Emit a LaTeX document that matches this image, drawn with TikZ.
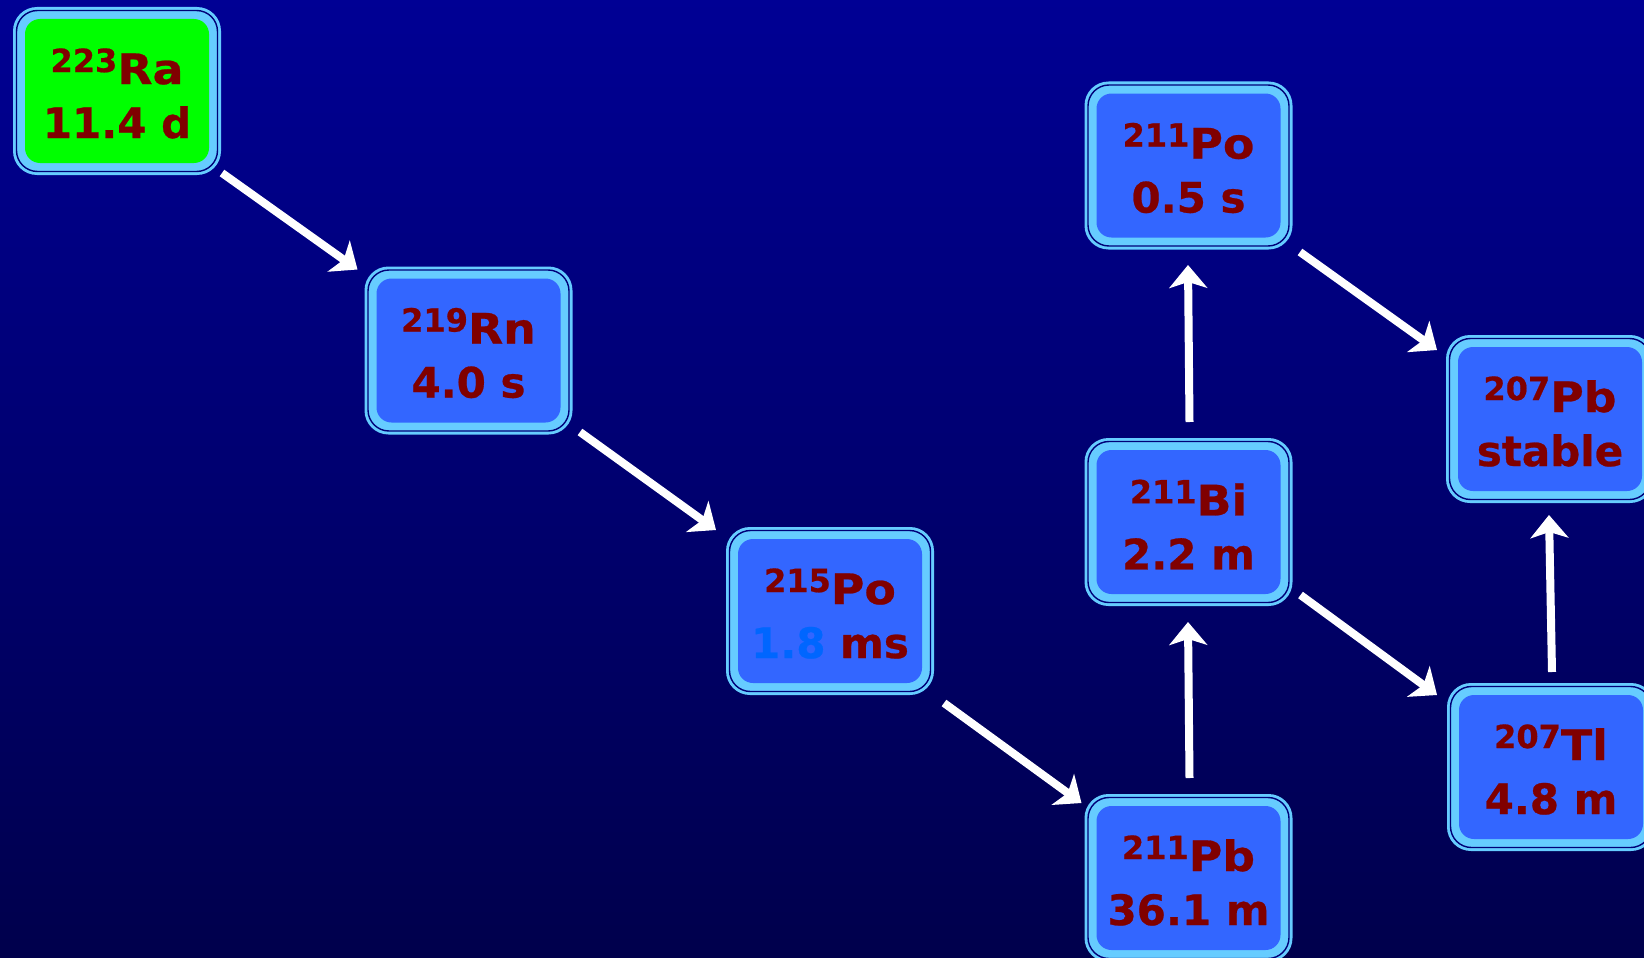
\documentclass[tikz,border=0pt]{standalone}
\usepackage{fontspec}
\setmainfont{DejaVu Sans}
\newfontfamily\nucfont{DejaVu Sans}[UprightFont={* Bold}, FakeBold=0.6]
\newfontfamily\symfont{DejaVu Sans}[UprightFont={* Bold}, FakeBold=0.6, FakeStretch=1.09]
\usetikzlibrary{arrows.meta}
\definecolor{bgtop}{RGB}{0,0,148}
\definecolor{bgbot}{RGB}{0,0,76}
\definecolor{band}{RGB}{102,204,255}
\definecolor{rim}{RGB}{0,0,120}
\definecolor{boxblue}{RGB}{51,102,255}
\definecolor{boxgreen}{RGB}{0,255,0}
\definecolor{txt}{RGB}{128,0,0}
\definecolor{hl}{RGB}{0,102,255}
\newcommand\isot[2]{\raisebox{12pt}{\fontsize{32}{32}\selectfont #1}{\symfont #2}}
\tikzset{
 outerbox/.style={rectangle, rounded corners=24pt, fill=band, minimum width=208pt, minimum height=168pt, inner sep=0pt, outer sep=0pt},
 rimline/.style={rectangle, rounded corners=21pt, draw=rim, line width=1.4pt, minimum width=201pt, minimum height=161pt, inner sep=0pt},
 innerbox/.style={rectangle, rounded corners=15pt, minimum width=184pt, minimum height=144pt, inner sep=0pt},
 nuctext/.style={inner sep=0pt, text=txt, align=center, font=\nucfont\fontsize{42}{54}\selectfont},
 arr/.style={draw=white, line width=8pt, -{Stealth[length=23pt,width=38pt,inset=6pt]}},
}
\newcommand\nuc[4]{%
 \node[outerbox] (#1) at (#2) {};
 \node[rimline] at (#1.center) {};
 \node[innerbox, fill=#3] (#1-in) at (#1.center) {};
 \node[nuctext] (#1-t) at ([yshift=-2.5pt]#1.center) {#4};
}
\begin{document}
\begin{tikzpicture}[x=1pt,y=-1pt]
\useasboundingbox (0,0) rectangle (1644,958);
\clip (0,0) rectangle (1644,958);
\shade[top color=bgtop, bottom color=bgbot] (0,0) rectangle (1644,958);

\nuc{ra}{117,91}{boxgreen}{\isot{223}{Ra}\\11.4 d}
\nuc{rn}{468.5,350.5}{boxblue}{\isot{219}{Rn}\\4.0 s}
\nuc{poa}{830,611}{boxblue}{\isot{215}{Po}\\{\color{hl}1.8} ms}
\nuc{pba}{1188.5,878}{boxblue}{\isot{211}{Pb}\\36.1 m}
\nuc{bi}{1188.5,522}{boxblue}{\isot{211}{Bi}\\2.2 m}
\nuc{pob}{1188.5,165.5}{boxblue}{\isot{211}{Po}\\0.5 s}
\nuc{pbb}{1550,419}{boxblue}{\isot{207}{Pb}\\stable}
\nuc{tl}{1551,767}{boxblue}{\isot{207}{Tl}\\4.8 m}

\draw[arr] ([shift={(1,-2)}]ra.south east) -- ([shift={(-7,3)}]rn.north west);
\draw[arr] ([shift={(7.5,-2.5)}]rn.south east) -- ([shift={(-10,3)}]poa.north west);
\draw[arr] ([shift={(10,8)}]poa.south east) -- ([shift={(-3,9)}]pba.north west);
\draw[arr] ([shift={(1,-16)}]pba.north) -- ([shift={(-0.5,16)}]bi.south);
\draw[arr] ([shift={(1,-16)}]bi.north) -- ([shift={(-0.5,15.5)}]pob.south);
\draw[arr] ([shift={(7.5,2.5)}]pob.south east) -- ([shift={(-9,15)}]pbb.north west);
\draw[arr] ([shift={(8,-11)}]bi.south east) -- ([shift={(-10,12)}]tl.north west);
\draw[arr] ([shift={(1,-11)}]tl.north) -- ([shift={(-1,12)}]pbb.south);
\end{tikzpicture}
\end{document}
